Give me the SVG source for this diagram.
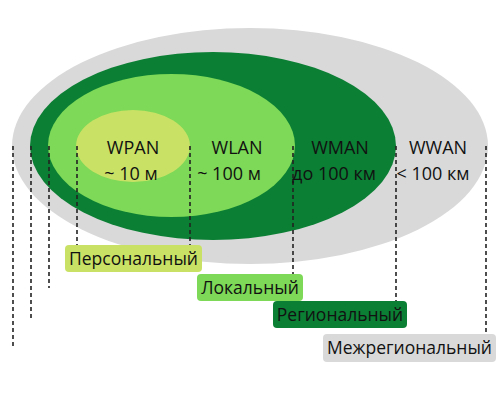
<svg xmlns="http://www.w3.org/2000/svg" width="500" height="400" viewBox="0 0 500 400">
<style>
.t{font-family:"Open Sans","Liberation Sans",sans-serif;font-size:18px;fill:#111;text-anchor:middle}
.l{font-family:"Open Sans","Liberation Sans",sans-serif;font-size:17.5px;fill:#111;text-anchor:middle}
.d{stroke:#222;stroke-width:1.6;stroke-dasharray:4 3;fill:none}
</style>
<rect width="500" height="400" fill="#fff"/>
<g id="wwan"><ellipse cx="250" cy="146" rx="238" ry="118" fill="#d9d9d9"/></g>
<g id="wman"><ellipse cx="213" cy="146" rx="183" ry="94" fill="#0b7f34"/></g>
<g id="wlan"><ellipse cx="171.5" cy="145.5" rx="123.5" ry="71.5" fill="#7dd957"/></g>
<g id="wpan"><ellipse cx="133" cy="146" rx="57" ry="36" fill="#c9e265"/></g>
<g id="connectors">
<line class="d" x1="13" y1="146" x2="13" y2="348"/>
<line class="d" x1="31" y1="146" x2="31" y2="318"/>
<line class="d" x1="49" y1="146" x2="49" y2="288"/>
<line class="d" x1="77" y1="146" x2="77" y2="245"/>
<line class="d" x1="190" y1="146" x2="190" y2="245"/>
<line class="d" x1="293" y1="146" x2="293" y2="274"/>
<line class="d" x1="396" y1="146" x2="396" y2="301"/>
<line class="d" x1="486" y1="146" x2="486" y2="334"/>
</g>
<g id="wpan-text"><text class="t" x="133" y="154">WPAN</text><text class="t" x="131" y="180">~ 10 м</text></g>
<g id="wlan-text"><text class="t" x="237" y="154">WLAN</text><text class="t" x="229" y="180">~ 100 м</text></g>
<g id="wman-text"><text class="t" x="340" y="154">WMAN</text><text class="t" x="334" y="180">до 100 км</text></g>
<g id="wwan-text"><text class="t" x="438" y="154">WWAN</text><text class="t" x="433" y="180">&lt; 100 км</text></g>
<g id="label-personal"><rect x="65" y="245" width="137" height="27" rx="4" fill="#c9e265"/><text class="l" x="133.5" y="265">Персональный</text></g>
<g id="label-local"><rect x="197" y="274" width="106" height="27" rx="4" fill="#7dd957"/><text class="l" x="250" y="294">Локальный</text></g>
<g id="label-regional"><rect x="273" y="301" width="134" height="27" rx="4" fill="#0b7f34"/><text class="l" x="340" y="321">Региональный</text></g>
<g id="label-interregional"><rect x="323" y="334" width="173" height="28" rx="4" fill="#d9d9d9"/><text class="l" x="409.5" y="354">Межрегиональный</text></g>
</svg>
